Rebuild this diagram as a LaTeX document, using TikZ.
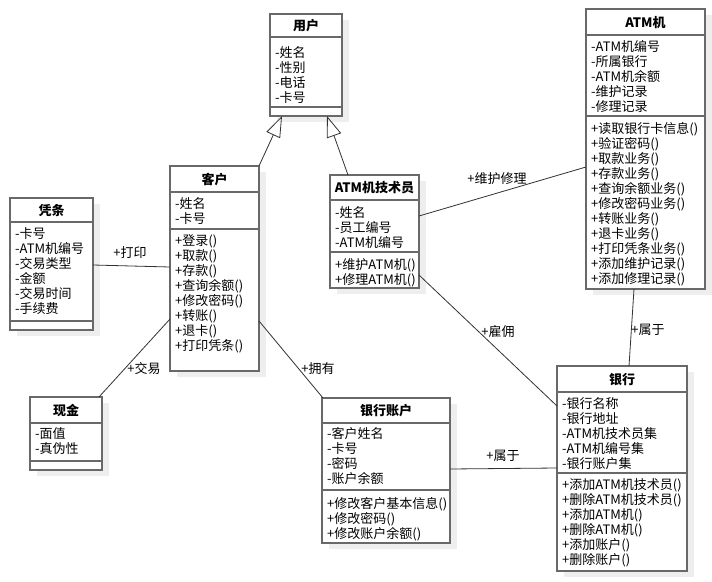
\documentclass[tikz,border=0pt]{standalone}
\usepackage{fontspec}
\setmainfont{Noto Sans CJK SC}
\usetikzlibrary{arrows.meta,shadows}
\definecolor{boxgray}{RGB}{105,105,105}
\definecolor{linegray}{RGB}{50,50,50}
\definecolor{shadowgray}{RGB}{238,238,238}
\tikzset{
  cls/.style={draw=boxgray, line width=1.4pt, fill=white, inner sep=0pt, outer sep=0pt,
    drop shadow={shadow xshift=7pt, shadow yshift=-6pt, fill=shadowgray, opacity=1}},
  boxline/.style={draw=boxgray, line width=1.4pt},
  ttl/.style={font=\fontsize{13}{15}\selectfont\bfseries, inner sep=0pt},
  txt/.style={font=\fontsize{13}{15}\selectfont, inner sep=0pt},
  lbl/.style={font=\fontsize{13}{15}\selectfont, inner sep=0pt},
  conn/.style={draw=linegray, line width=0.8pt},
  gen/.style={draw=linegray, line width=0.8pt, -{Triangle[open, length=21pt, width=15pt, line width=0.8pt]}}
}
\newcommand{\clsbox}[8]{%
  \node[cls, minimum width={#4-#2}, minimum height={#5-#3}, anchor=north west] (#1) at (#2,#3) {};
  \draw[boxline] (#1.west |- 0,#6) -- (#1.east |- 0,#6);
  \draw[boxline] (#1.west |- 0,#7) -- (#1.east |- 0,#7);
  \node[ttl, anchor=base] (#1-t) at ({(#2+#4)/2},{(#3+#6)/2+5}) {#8};
}
\newcommand{\clsrows}[4]{%
  \foreach \t [count=\i] in {#4} \node[txt, anchor=base west] (#1-\i) at (#2, {#3+5+15*(\i-1)}) {\t};
}
\begin{document}
\begin{tikzpicture}[x=1pt,y=-1pt]
\fill[white] (0,0) rectangle (712,581);
\useasboundingbox (0,0) rectangle (712,581);

% classes
\clsbox{yonghu}{270}{14}{342}{116}{37}{107}{用户}
\clsrows{yonghu-a}{275}{52.5}{{-姓名},{-性别},{-电话},{-卡号}}

\clsbox{pingtiao}{10}{198}{93}{330}{222}{321}{凭条}
\clsrows{pingtiao-a}{15}{233.5}{{-卡号},{-ATM机编号},{-交易类型},{-金额},{-交易时间},{-手续费}}

\clsbox{kehu}{170}{166}{259}{371}{192}{229}{客户}
\clsrows{kehu-a}{175}{203}{{-姓名},{-卡号}}
\clsrows{kehu-m}{175}{240}{{+登录()},{+取款()},{+存款()},{+查询余额()},{+修改密码()},{+转账()},{+退卡()},{+打印凭条()}}

\clsbox{tech}{330}{175}{419}{288}{200}{252}{ATM机技术员}
\clsrows{tech-a}{335}{212}{{-姓名},{-员工编号},{-ATM机编号}}
\clsrows{tech-m}{335}{264}{{+维护ATM机()},{+修理ATM机()}}

\clsbox{atm}{586}{9}{705}{289}{35}{116}{ATM机}
\clsrows{atm-a}{591}{46}{{-ATM机编号},{-所属银行},{-ATM机余额},{-维护记录},{-修理记录}}
\clsrows{atm-m}{591}{128}{{+读取银行卡信息()},{+验证密码()},{+取款业务()},{+存款业务()},{+查询余额业务()},{+修改密码业务()},{+转账业务()},{+退卡业务()},{+打印凭条业务()},{+添加维护记录()},{+添加修理记录()}}

\clsbox{xianjin}{30}{397}{102}{470}{423}{461}{现金}
\clsrows{xianjin-a}{35}{433}{{-面值},{-真伪性}}

\clsbox{zhanghu}{322}{398}{450}{543}{423}{490}{银行账户}
\clsrows{zhanghu-a}{327}{433.5}{{-客户姓名},{-卡号},{-密码},{-账户余额}}
\clsrows{zhanghu-m}{327}{503}{{+修改客户基本信息()},{+修改密码()},{+修改账户余额()}}

\clsbox{yinhang}{557}{366}{687}{571}{392}{473}{银行}
\clsrows{yinhang-a}{562}{403}{{-银行名称},{-银行地址},{-ATM机技术员集},{-ATM机编号集},{-银行账户集}}
\clsrows{yinhang-m}{562}{484.5}{{+添加ATM机技术员()},{+删除ATM机技术员()},{+添加ATM机()},{+删除ATM机()},{+添加账户()},{+删除账户()}}

% generalizations
\draw[gen] (kehu.north east) -- (282,0 |- yonghu.south);
\draw[gen] (348,0 |- tech.north) -- (327,0 |- yonghu.south);

% associations
\draw[conn] (pingtiao.east |- 0,265) -- (kehu.west |- 0,267);
\draw[conn] (kehu.west |- 0,319) -- (99,0 |- xianjin.north);
\draw[conn] (kehu.east |- 0,321) -- (323,0 |- zhanghu.north);
\draw[conn] (tech.east |- 0,216) -- (atm.west |- 0,167);
\draw[conn] (tech.east |- 0,275) -- (yinhang.west |- 0,406);
\draw[conn] (634,0 |- atm.south) -- (629,0 |- yinhang.north);
\draw[conn] (zhanghu.east |- 0,469) -- (yinhang.west |- 0,468);

% labels
\node[lbl] (l-dayin) at (130,253) {+打印};
\node[lbl] (l-jiaoyi) at (144,369) {+交易};
\node[lbl] (l-yongyou) at (318,369) {+拥有};
\node[lbl] (l-weihu) at (497,179) {+维护修理};
\node[lbl] (l-guyong) at (498,332) {+雇佣};
\node[lbl] (l-shuyu1) at (648,330) {+属于};
\node[lbl] (l-shuyu2) at (503,456) {+属于};
\end{tikzpicture}
\end{document}
